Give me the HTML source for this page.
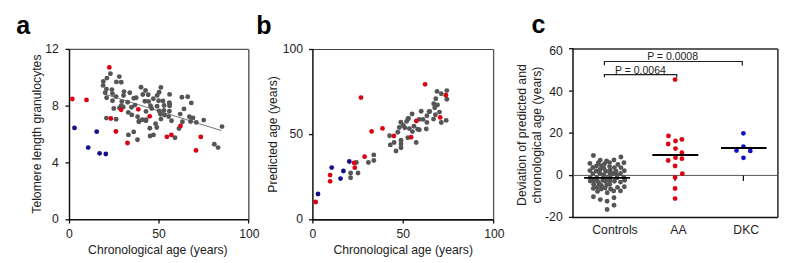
<!DOCTYPE html>
<html><head><meta charset="utf-8"><style>
html,body{margin:0;padding:0;background:#fff;width:785px;height:263px;overflow:hidden}
svg{display:block;font-family:"Liberation Sans",sans-serif}
</style></head><body>
<svg width="785" height="263" viewBox="0 0 785 263">
<rect width="785" height="263" fill="#fff"/>
<text x="16.2" y="33.8" font-size="25" font-weight="bold">a</text><text x="256.3" y="33.5" font-size="25" font-weight="bold">b</text><text x="531.6" y="33.2" font-size="25" font-weight="bold">c</text><g font-size="12.2" fill="#222"><line x1="69.5" y1="49.4" x2="248.8" y2="49.4" stroke="#555" stroke-width="1.2"/><line x1="248.8" y1="49.4" x2="248.8" y2="219.8" stroke="#6a6a6a" stroke-width="1.6"/><line x1="69.5" y1="49" x2="69.5" y2="220.5" stroke="#111" stroke-width="1.5"/><line x1="69" y1="219.8" x2="248.8" y2="219.8" stroke="#111" stroke-width="1.6"/><line x1="65.5" y1="49.4" x2="69.5" y2="49.4" stroke="#111" stroke-width="1.3"/><line x1="65.5" y1="106.1" x2="69.5" y2="106.1" stroke="#111" stroke-width="1.3"/><line x1="65.5" y1="162.9" x2="69.5" y2="162.9" stroke="#111" stroke-width="1.3"/><line x1="65.5" y1="219.8" x2="69.5" y2="219.8" stroke="#111" stroke-width="1.3"/><line x1="69.5" y1="219.8" x2="69.5" y2="223.5" stroke="#111" stroke-width="1.3"/><line x1="159.05" y1="219.8" x2="159.05" y2="223.5" stroke="#111" stroke-width="1.3"/><line x1="248.6" y1="219.8" x2="248.6" y2="223.5" stroke="#111" stroke-width="1.3"/><text x="58.9" y="52.9" text-anchor="end">12</text><text x="58.9" y="109.5" text-anchor="end">8</text><text x="58.9" y="166.8" text-anchor="end">4</text><text x="58.9" y="223.4" text-anchor="end">0</text><text x="69.3" y="238.4" text-anchor="middle">0</text><text x="159" y="238.4" text-anchor="middle">50</text><text x="249.3" y="238.4" text-anchor="middle">100</text><text x="157.9" y="254" text-anchor="middle">Chronological age (years)</text><text transform="translate(40.5,134.1) rotate(-90)" text-anchor="middle">Telomere length granulocytes</text></g><line x1="105" y1="94.2" x2="221.4" y2="130.6" stroke="#777" stroke-width="1"/><circle cx="110.4" cy="73.7" r="2.45" fill="#555555"/><circle cx="106.9" cy="78.1" r="2.45" fill="#555555"/><circle cx="103.3" cy="81.4" r="2.45" fill="#555555"/><circle cx="103.1" cy="85.4" r="2.45" fill="#555555"/><circle cx="106.4" cy="89.1" r="2.45" fill="#555555"/><circle cx="105.2" cy="92.8" r="2.45" fill="#555555"/><circle cx="106.6" cy="97.8" r="2.45" fill="#555555"/><circle cx="111.9" cy="89.6" r="2.45" fill="#555555"/><circle cx="112.4" cy="93.6" r="2.45" fill="#555555"/><circle cx="116" cy="96.6" r="2.45" fill="#555555"/><circle cx="112.5" cy="100.8" r="2.45" fill="#555555"/><circle cx="119.3" cy="76.6" r="2.45" fill="#555555"/><circle cx="116.4" cy="81.9" r="2.45" fill="#555555"/><circle cx="121.2" cy="82.3" r="2.45" fill="#555555"/><circle cx="124" cy="91.6" r="2.45" fill="#555555"/><circle cx="123.5" cy="95.5" r="2.45" fill="#555555"/><circle cx="129.8" cy="92.7" r="2.45" fill="#555555"/><circle cx="121.8" cy="101.6" r="2.45" fill="#555555"/><circle cx="121.2" cy="105.6" r="2.45" fill="#555555"/><circle cx="127.7" cy="102.3" r="2.45" fill="#555555"/><circle cx="133.8" cy="98.2" r="2.45" fill="#555555"/><circle cx="131.5" cy="107.2" r="2.45" fill="#555555"/><circle cx="135" cy="105.1" r="2.45" fill="#555555"/><circle cx="136.2" cy="97.7" r="2.45" fill="#555555"/><circle cx="113.8" cy="108.5" r="2.45" fill="#555555"/><circle cx="119.5" cy="107.9" r="2.45" fill="#555555"/><circle cx="123.3" cy="106.9" r="2.45" fill="#555555"/><circle cx="128.3" cy="112.4" r="2.45" fill="#555555"/><circle cx="131.8" cy="114.9" r="2.45" fill="#555555"/><circle cx="106.4" cy="118.1" r="2.45" fill="#555555"/><circle cx="116.1" cy="119.3" r="2.45" fill="#555555"/><circle cx="141" cy="87.2" r="2.45" fill="#555555"/><circle cx="145.5" cy="90.5" r="2.45" fill="#555555"/><circle cx="142.8" cy="94.5" r="2.45" fill="#555555"/><circle cx="148.2" cy="94.8" r="2.45" fill="#555555"/><circle cx="160.9" cy="87.4" r="2.45" fill="#555555"/><circle cx="159.1" cy="92.2" r="2.45" fill="#555555"/><circle cx="157.2" cy="95.4" r="2.45" fill="#555555"/><circle cx="169.6" cy="94.4" r="2.45" fill="#555555"/><circle cx="153.3" cy="98.8" r="2.45" fill="#555555"/><circle cx="158.6" cy="100.8" r="2.45" fill="#555555"/><circle cx="163" cy="101" r="2.45" fill="#555555"/><circle cx="144.9" cy="101.2" r="2.45" fill="#555555"/><circle cx="148.6" cy="101.4" r="2.45" fill="#555555"/><circle cx="150.5" cy="105.8" r="2.45" fill="#555555"/><circle cx="151.7" cy="108.6" r="2.45" fill="#555555"/><circle cx="157.1" cy="106.2" r="2.45" fill="#555555"/><circle cx="164.1" cy="105.5" r="2.45" fill="#555555"/><circle cx="169.3" cy="102.6" r="2.45" fill="#555555"/><circle cx="169.6" cy="105.9" r="2.45" fill="#555555"/><circle cx="163.9" cy="110.4" r="2.45" fill="#555555"/><circle cx="159.2" cy="111" r="2.45" fill="#555555"/><circle cx="169.4" cy="111.3" r="2.45" fill="#555555"/><circle cx="146" cy="111.4" r="2.45" fill="#555555"/><circle cx="160.5" cy="114.2" r="2.45" fill="#555555"/><circle cx="164.5" cy="115.1" r="2.45" fill="#555555"/><circle cx="168.6" cy="116.6" r="2.45" fill="#555555"/><circle cx="137.6" cy="116.8" r="2.45" fill="#555555"/><circle cx="142.3" cy="119.8" r="2.45" fill="#555555"/><circle cx="146.1" cy="119.8" r="2.45" fill="#555555"/><circle cx="138.9" cy="121.7" r="2.45" fill="#555555"/><circle cx="161" cy="119.1" r="2.45" fill="#555555"/><circle cx="171.5" cy="120.8" r="2.45" fill="#555555"/><circle cx="155.6" cy="123.7" r="2.45" fill="#555555"/><circle cx="156.8" cy="127.5" r="2.45" fill="#555555"/><circle cx="149.8" cy="128.3" r="2.45" fill="#555555"/><circle cx="150.1" cy="136" r="2.45" fill="#555555"/><circle cx="153.5" cy="134.9" r="2.45" fill="#555555"/><circle cx="133.7" cy="131.9" r="2.45" fill="#555555"/><circle cx="128.4" cy="134.9" r="2.45" fill="#555555"/><circle cx="137.5" cy="139.8" r="2.45" fill="#555555"/><circle cx="139" cy="121.2" r="2.45" fill="#555555"/><circle cx="145.9" cy="120.8" r="2.45" fill="#555555"/><circle cx="181.9" cy="97.2" r="2.45" fill="#555555"/><circle cx="187.7" cy="96.8" r="2.45" fill="#555555"/><circle cx="191.3" cy="102.9" r="2.45" fill="#555555"/><circle cx="184" cy="108.9" r="2.45" fill="#555555"/><circle cx="180.2" cy="114.1" r="2.45" fill="#555555"/><circle cx="189.4" cy="116.8" r="2.45" fill="#555555"/><circle cx="193" cy="117.9" r="2.45" fill="#555555"/><circle cx="190.6" cy="121.5" r="2.45" fill="#555555"/><circle cx="196.3" cy="122.4" r="2.45" fill="#555555"/><circle cx="203.7" cy="120.1" r="2.45" fill="#555555"/><circle cx="182.4" cy="121.7" r="2.45" fill="#555555"/><circle cx="179" cy="128.5" r="2.45" fill="#555555"/><circle cx="175" cy="137.8" r="2.45" fill="#555555"/><circle cx="222" cy="126.6" r="2.45" fill="#555555"/><circle cx="214.3" cy="144.2" r="2.45" fill="#555555"/><circle cx="218.1" cy="147.6" r="2.45" fill="#555555"/><circle cx="169.5" cy="103.8" r="2.45" fill="#555555"/><circle cx="72.3" cy="99" r="2.4" fill="#dc0010"/><circle cx="86.5" cy="99.9" r="2.4" fill="#dc0010"/><circle cx="109.3" cy="67.4" r="2.4" fill="#dc0010"/><circle cx="121.1" cy="109.8" r="2.4" fill="#dc0010"/><circle cx="110.8" cy="118.5" r="2.4" fill="#dc0010"/><circle cx="115.9" cy="131.5" r="2.4" fill="#dc0010"/><circle cx="138.3" cy="109.3" r="2.4" fill="#dc0010"/><circle cx="149.7" cy="116.3" r="2.4" fill="#dc0010"/><circle cx="171.4" cy="134.9" r="2.4" fill="#dc0010"/><circle cx="180.5" cy="125.9" r="2.4" fill="#dc0010"/><circle cx="200.8" cy="136.9" r="2.4" fill="#dc0010"/><circle cx="196" cy="150.4" r="2.4" fill="#dc0010"/><circle cx="127.5" cy="143" r="2.4" fill="#dc0010"/><circle cx="166.9" cy="136.8" r="2.4" fill="#dc0010"/><circle cx="74.5" cy="127.9" r="2.4" fill="#14108c"/><circle cx="96.7" cy="131.7" r="2.4" fill="#14108c"/><circle cx="88.2" cy="147.6" r="2.4" fill="#14108c"/><circle cx="99.6" cy="153.3" r="2.4" fill="#14108c"/><circle cx="105.8" cy="154" r="2.4" fill="#14108c"/><g font-size="12.2" fill="#222"><line x1="312.9" y1="49.5" x2="493.6" y2="49.5" stroke="#444" stroke-width="1.1"/><line x1="493.6" y1="49.5" x2="493.6" y2="219.8" stroke="#555" stroke-width="1.3"/><line x1="312.9" y1="49" x2="312.9" y2="220.5" stroke="#111" stroke-width="1.5"/><line x1="312.4" y1="219.8" x2="493.6" y2="219.8" stroke="#111" stroke-width="1.7"/><line x1="309" y1="49.5" x2="312.9" y2="49.5" stroke="#111" stroke-width="1.3"/><line x1="309" y1="134.6" x2="312.9" y2="134.6" stroke="#111" stroke-width="1.3"/><line x1="309" y1="219.8" x2="312.9" y2="219.8" stroke="#111" stroke-width="1.3"/><line x1="312.9" y1="219.8" x2="312.9" y2="223.5" stroke="#111" stroke-width="1.3"/><line x1="403.25" y1="219.8" x2="403.25" y2="223.5" stroke="#111" stroke-width="1.3"/><line x1="493.6" y1="219.8" x2="493.6" y2="223.5" stroke="#111" stroke-width="1.3"/><text x="303.1" y="52.7" text-anchor="end">100</text><text x="303.1" y="137.8" text-anchor="end">50</text><text x="303.1" y="223.4" text-anchor="end">0</text><text x="312.85" y="238.4" text-anchor="middle">0</text><text x="403.35" y="238.4" text-anchor="middle">50</text><text x="494.3" y="238.4" text-anchor="middle">100</text><text x="403.2" y="254" text-anchor="middle">Chronological age (years)</text><text transform="translate(277.4,134.4) rotate(-90)" text-anchor="middle">Predicted age (years)</text></g><circle cx="356.4" cy="162.5" r="2.45" fill="#555555"/><circle cx="350.6" cy="173" r="2.45" fill="#555555"/><circle cx="350.6" cy="177.7" r="2.45" fill="#555555"/><circle cx="358" cy="173" r="2.45" fill="#555555"/><circle cx="368.4" cy="162.5" r="2.45" fill="#555555"/><circle cx="373.8" cy="154.9" r="2.45" fill="#555555"/><circle cx="373.8" cy="160.5" r="2.45" fill="#555555"/><circle cx="389.6" cy="135.8" r="2.45" fill="#555555"/><circle cx="397.8" cy="132.3" r="2.45" fill="#555555"/><circle cx="399.3" cy="127.5" r="2.45" fill="#555555"/><circle cx="400.8" cy="122.3" r="2.45" fill="#555555"/><circle cx="403.3" cy="125.5" r="2.45" fill="#555555"/><circle cx="406.6" cy="121.4" r="2.45" fill="#555555"/><circle cx="408.5" cy="118.5" r="2.45" fill="#555555"/><circle cx="404.8" cy="127.8" r="2.45" fill="#555555"/><circle cx="409.3" cy="128.6" r="2.45" fill="#555555"/><circle cx="413.9" cy="126.3" r="2.45" fill="#555555"/><circle cx="417.7" cy="129.3" r="2.45" fill="#555555"/><circle cx="412.4" cy="131.6" r="2.45" fill="#555555"/><circle cx="407.8" cy="137.8" r="2.45" fill="#555555"/><circle cx="401" cy="140.3" r="2.45" fill="#555555"/><circle cx="401" cy="144" r="2.45" fill="#555555"/><circle cx="401" cy="147.8" r="2.45" fill="#555555"/><circle cx="394.1" cy="142.5" r="2.45" fill="#555555"/><circle cx="390.3" cy="144.9" r="2.45" fill="#555555"/><circle cx="396" cy="151" r="2.45" fill="#555555"/><circle cx="416.2" cy="142.5" r="2.45" fill="#555555"/><circle cx="412.1" cy="114" r="2.45" fill="#555555"/><circle cx="421.2" cy="111.2" r="2.45" fill="#555555"/><circle cx="419.2" cy="119.4" r="2.45" fill="#555555"/><circle cx="423" cy="119.4" r="2.45" fill="#555555"/><circle cx="426.9" cy="115.7" r="2.45" fill="#555555"/><circle cx="429.7" cy="111.5" r="2.45" fill="#555555"/><circle cx="435.4" cy="114.8" r="2.45" fill="#555555"/><circle cx="433.5" cy="119.1" r="2.45" fill="#555555"/><circle cx="426.9" cy="122.4" r="2.45" fill="#555555"/><circle cx="419.3" cy="129.7" r="2.45" fill="#555555"/><circle cx="426.3" cy="129" r="2.45" fill="#555555"/><circle cx="437" cy="91.4" r="2.45" fill="#555555"/><circle cx="441.3" cy="93.7" r="2.45" fill="#555555"/><circle cx="446.8" cy="90.6" r="2.45" fill="#555555"/><circle cx="446.8" cy="99.3" r="2.45" fill="#555555"/><circle cx="435.8" cy="98.8" r="2.45" fill="#555555"/><circle cx="433.7" cy="103.8" r="2.45" fill="#555555"/><circle cx="437.5" cy="104.9" r="2.45" fill="#555555"/><circle cx="434.7" cy="107.8" r="2.45" fill="#555555"/><circle cx="429.1" cy="111.6" r="2.45" fill="#555555"/><circle cx="439.5" cy="112.1" r="2.45" fill="#555555"/><circle cx="446.2" cy="120.4" r="2.45" fill="#555555"/><circle cx="441.3" cy="122.5" r="2.45" fill="#555555"/><circle cx="408" cy="118.7" r="2.45" fill="#555555"/><circle cx="315.7" cy="202" r="2.4" fill="#dc0010"/><circle cx="330.1" cy="181.3" r="2.4" fill="#dc0010"/><circle cx="330.1" cy="175.1" r="2.4" fill="#dc0010"/><circle cx="354" cy="162.8" r="2.4" fill="#dc0010"/><circle cx="354.8" cy="167.7" r="2.4" fill="#dc0010"/><circle cx="364.6" cy="156.7" r="2.4" fill="#dc0010"/><circle cx="361" cy="97.6" r="2.4" fill="#dc0010"/><circle cx="371.6" cy="131.4" r="2.4" fill="#dc0010"/><circle cx="382.5" cy="128.4" r="2.4" fill="#dc0010"/><circle cx="393.9" cy="136" r="2.4" fill="#dc0010"/><circle cx="416.3" cy="121" r="2.4" fill="#dc0010"/><circle cx="411.1" cy="137.2" r="2.4" fill="#dc0010"/><circle cx="425.1" cy="84.3" r="2.4" fill="#dc0010"/><circle cx="445.9" cy="95.2" r="2.4" fill="#dc0010"/><circle cx="440.2" cy="117.4" r="2.4" fill="#dc0010"/><circle cx="318" cy="194" r="2.4" fill="#14108c"/><circle cx="331.7" cy="167.6" r="2.4" fill="#14108c"/><circle cx="340.5" cy="178.6" r="2.4" fill="#14108c"/><circle cx="343.4" cy="171" r="2.4" fill="#14108c"/><circle cx="349.3" cy="161.5" r="2.4" fill="#14108c"/><g font-size="12.2" fill="#222"><line x1="573" y1="49" x2="777.9" y2="49" stroke="#2a2a2a" stroke-width="1.4"/><line x1="777.9" y1="49" x2="777.9" y2="217.4" stroke="#2a2a2a" stroke-width="1.5"/><line x1="573" y1="48.3" x2="573" y2="218" stroke="#111" stroke-width="1.5"/><line x1="572.5" y1="217.4" x2="777.9" y2="217.4" stroke="#111" stroke-width="1.5"/><line x1="573" y1="175.4" x2="777.6" y2="175.4" stroke="#555" stroke-width="1"/><line x1="569" y1="48.7" x2="573" y2="48.7" stroke="#111" stroke-width="1.3"/><line x1="569" y1="91.1" x2="573" y2="91.1" stroke="#111" stroke-width="1.3"/><line x1="569" y1="133.1" x2="573" y2="133.1" stroke="#111" stroke-width="1.3"/><line x1="569" y1="175.6" x2="573" y2="175.6" stroke="#111" stroke-width="1.3"/><line x1="569" y1="217.4" x2="573" y2="217.4" stroke="#111" stroke-width="1.3"/><line x1="607" y1="175.4" x2="607" y2="181" stroke="#111" stroke-width="1.2"/><line x1="675.1" y1="175.4" x2="675.1" y2="181" stroke="#111" stroke-width="1.2"/><line x1="743.4" y1="175.4" x2="743.4" y2="181" stroke="#111" stroke-width="1.2"/><text x="562.7" y="54.6" text-anchor="end">60</text><text x="562.7" y="95.9" text-anchor="end">40</text><text x="562.7" y="137.4" text-anchor="end">20</text><text x="562.7" y="178.9" text-anchor="end">0</text><text x="562.7" y="220.5" text-anchor="end">-20</text><text x="615" y="233.7" text-anchor="middle">Controls</text><text x="678.4" y="233.7" text-anchor="middle">AA</text><text x="746.2" y="233.7" text-anchor="middle">DKC</text><text transform="translate(525.7,135.1) rotate(-90)" text-anchor="middle">Deviation of predicted and</text><text transform="translate(540.8,135.0) rotate(-90)" text-anchor="middle">chronological age (years)</text><path d="M604.4,65.3 V61.5 H742.3 V65.6" fill="none" stroke="#222" stroke-width="1.2"/><path d="M604.4,77.2 V74.6 H676.8 V77.4" fill="none" stroke="#222" stroke-width="1.2"/><text x="672.6" y="59.8" text-anchor="middle" font-size="10.5">P = 0.0008</text><text x="640.4" y="73.8" text-anchor="middle" font-size="10.5">P = 0.0064</text></g><circle cx="593.4" cy="155.5" r="2.45" fill="#555555"/><circle cx="620.9" cy="157" r="2.45" fill="#555555"/><circle cx="600.2" cy="160.1" r="2.45" fill="#555555"/><circle cx="614" cy="160" r="2.45" fill="#555555"/><circle cx="606.6" cy="161" r="2.45" fill="#555555"/><circle cx="589.9" cy="163.4" r="2.45" fill="#555555"/><circle cx="598.4" cy="162.8" r="2.45" fill="#555555"/><circle cx="604.6" cy="163.8" r="2.45" fill="#555555"/><circle cx="609.6" cy="162.6" r="2.45" fill="#555555"/><circle cx="623.9" cy="162.7" r="2.45" fill="#555555"/><circle cx="617.9" cy="164.5" r="2.45" fill="#555555"/><circle cx="592.9" cy="167.5" r="2.45" fill="#555555"/><circle cx="596.5" cy="166" r="2.45" fill="#555555"/><circle cx="601.3" cy="165.6" r="2.45" fill="#555555"/><circle cx="609.6" cy="166.6" r="2.45" fill="#555555"/><circle cx="614.4" cy="167.6" r="2.45" fill="#555555"/><circle cx="620.9" cy="167.6" r="2.45" fill="#555555"/><circle cx="589.9" cy="170.6" r="2.45" fill="#555555"/><circle cx="596.3" cy="171" r="2.45" fill="#555555"/><circle cx="600.1" cy="169.4" r="2.45" fill="#555555"/><circle cx="603.8" cy="168.2" r="2.45" fill="#555555"/><circle cx="605.8" cy="171.3" r="2.45" fill="#555555"/><circle cx="610.2" cy="170.2" r="2.45" fill="#555555"/><circle cx="616" cy="171.1" r="2.45" fill="#555555"/><circle cx="624.3" cy="170.8" r="2.45" fill="#555555"/><circle cx="592.9" cy="173.6" r="2.45" fill="#555555"/><circle cx="599.8" cy="173.2" r="2.45" fill="#555555"/><circle cx="603.6" cy="174.6" r="2.45" fill="#555555"/><circle cx="610" cy="173.8" r="2.45" fill="#555555"/><circle cx="613.5" cy="173.5" r="2.45" fill="#555555"/><circle cx="620.5" cy="173.4" r="2.45" fill="#555555"/><circle cx="617" cy="175.2" r="2.45" fill="#555555"/><circle cx="590.2" cy="177.6" r="2.45" fill="#555555"/><circle cx="596.8" cy="177.4" r="2.45" fill="#555555"/><circle cx="603.5" cy="177.6" r="2.45" fill="#555555"/><circle cx="610.3" cy="177.4" r="2.45" fill="#555555"/><circle cx="617" cy="177.8" r="2.45" fill="#555555"/><circle cx="623.7" cy="177.3" r="2.45" fill="#555555"/><circle cx="590.2" cy="181.1" r="2.45" fill="#555555"/><circle cx="593.7" cy="180" r="2.45" fill="#555555"/><circle cx="597.5" cy="181.1" r="2.45" fill="#555555"/><circle cx="602.8" cy="180.4" r="2.45" fill="#555555"/><circle cx="605.5" cy="181.3" r="2.45" fill="#555555"/><circle cx="609.9" cy="180.6" r="2.45" fill="#555555"/><circle cx="614.4" cy="181.3" r="2.45" fill="#555555"/><circle cx="620.5" cy="182.1" r="2.45" fill="#555555"/><circle cx="624.7" cy="180.2" r="2.45" fill="#555555"/><circle cx="593.7" cy="184.2" r="2.45" fill="#555555"/><circle cx="599" cy="183.4" r="2.45" fill="#555555"/><circle cx="601.3" cy="185.5" r="2.45" fill="#555555"/><circle cx="606.8" cy="184.8" r="2.45" fill="#555555"/><circle cx="609.7" cy="184.2" r="2.45" fill="#555555"/><circle cx="617.5" cy="187.4" r="2.45" fill="#555555"/><circle cx="624.3" cy="186.7" r="2.45" fill="#555555"/><circle cx="593.3" cy="188.4" r="2.45" fill="#555555"/><circle cx="597.1" cy="187.2" r="2.45" fill="#555555"/><circle cx="601.3" cy="189.1" r="2.45" fill="#555555"/><circle cx="605.1" cy="188" r="2.45" fill="#555555"/><circle cx="610.6" cy="189" r="2.45" fill="#555555"/><circle cx="613.7" cy="190.9" r="2.45" fill="#555555"/><circle cx="620.5" cy="190.9" r="2.45" fill="#555555"/><circle cx="597.5" cy="191.4" r="2.45" fill="#555555"/><circle cx="607.2" cy="192.8" r="2.45" fill="#555555"/><circle cx="593.4" cy="196.8" r="2.45" fill="#555555"/><circle cx="600.3" cy="199.6" r="2.45" fill="#555555"/><circle cx="607.1" cy="201.2" r="2.45" fill="#555555"/><circle cx="614" cy="197.8" r="2.45" fill="#555555"/><circle cx="614" cy="205.3" r="2.45" fill="#555555"/><circle cx="607.1" cy="209.5" r="2.45" fill="#555555"/><circle cx="675.1" cy="79.6" r="2.4" fill="#dc0010"/><circle cx="668.5" cy="135.9" r="2.4" fill="#dc0010"/><circle cx="675.5" cy="141" r="2.4" fill="#dc0010"/><circle cx="681.9" cy="139.4" r="2.4" fill="#dc0010"/><circle cx="668.2" cy="144" r="2.4" fill="#dc0010"/><circle cx="675.5" cy="148.6" r="2.4" fill="#dc0010"/><circle cx="681.9" cy="152.7" r="2.4" fill="#dc0010"/><circle cx="675.5" cy="157.7" r="2.4" fill="#dc0010"/><circle cx="668.2" cy="160.5" r="2.4" fill="#dc0010"/><circle cx="681.9" cy="158.7" r="2.4" fill="#dc0010"/><circle cx="675.1" cy="166" r="2.4" fill="#dc0010"/><circle cx="682.3" cy="173.7" r="2.4" fill="#dc0010"/><circle cx="675.1" cy="177.5" r="2.4" fill="#dc0010"/><circle cx="675.1" cy="188.5" r="2.4" fill="#dc0010"/><circle cx="675.1" cy="198.6" r="2.4" fill="#dc0010"/><circle cx="743.4" cy="133.3" r="2.4" fill="#1010c8"/><circle cx="743.4" cy="146.7" r="2.4" fill="#1010c8"/><circle cx="736.5" cy="150.5" r="2.4" fill="#1010c8"/><circle cx="750.3" cy="150.9" r="2.4" fill="#1010c8"/><circle cx="743.5" cy="157.8" r="2.4" fill="#1010c8"/><line x1="584.1" y1="177.8" x2="630" y2="177.8" stroke="#000" stroke-width="1.8"/><line x1="652.3" y1="154.9" x2="698.3" y2="154.9" stroke="#000" stroke-width="2"/><line x1="721" y1="148" x2="766.6" y2="148" stroke="#000" stroke-width="2"/>
</svg></body></html>
